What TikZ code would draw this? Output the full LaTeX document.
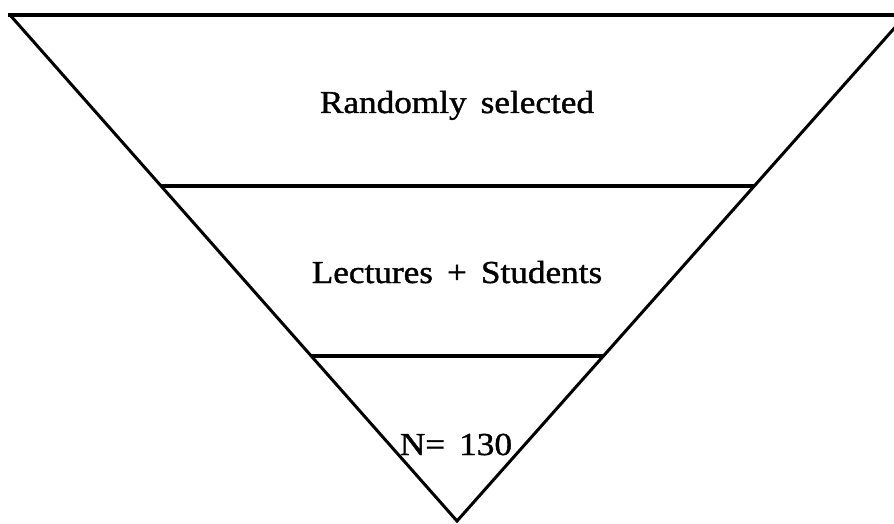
\documentclass[tikz,border=0pt]{standalone}
\usepackage{fontspec}
\setmainfont{Liberation Serif}[FakeStretch=1.1, WordSpace=1.6, FakeBold=1.2]
\usetikzlibrary{positioning,calc}
\tikzset{
  edgeline/.style={line width=3pt, line join=miter},
  tierline/.style={line width=3.5pt},
  tierlabel/.style={font=\fontsize{32}{38}\selectfont, inner sep=0pt, anchor=base}
}
\begin{document}
\begin{tikzpicture}[x=1pt,y=-1pt]
  \useasboundingbox (0,0) rectangle (894,524);
  \clip (0,0) rectangle (894,524);
  % outline of the funnel
  \coordinate (tl) at (10,15);
  \coordinate (tr) at (906,15);
  \coordinate (apex) at (457,521);
  \draw[edgeline] (tl) -- (apex) -- (tr);
  \draw[tierline] ($(tl)+(-2,0)$) -- (tr);
  % tiers
  \coordinate (l1) at ($(tl)!0.338!(apex)$);
  \coordinate (r1) at ($(tr)!0.338!(apex)$);
  \coordinate (l2) at ($(tl)!0.674!(apex)$);
  \coordinate (r2) at ($(tr)!0.674!(apex)$);
  \draw[tierline] (l1) -- (r1);
  \draw[tierline] (l2) -- (r2);
  % labels
  \node[tierlabel] (sel) at (457,113) {Randomly selected};
  \node[tierlabel] (grp) at (457,283) {Lectures + Students};
  \node[tierlabel] (num) at (456,455) {N= 130};
\end{tikzpicture}
\end{document}
